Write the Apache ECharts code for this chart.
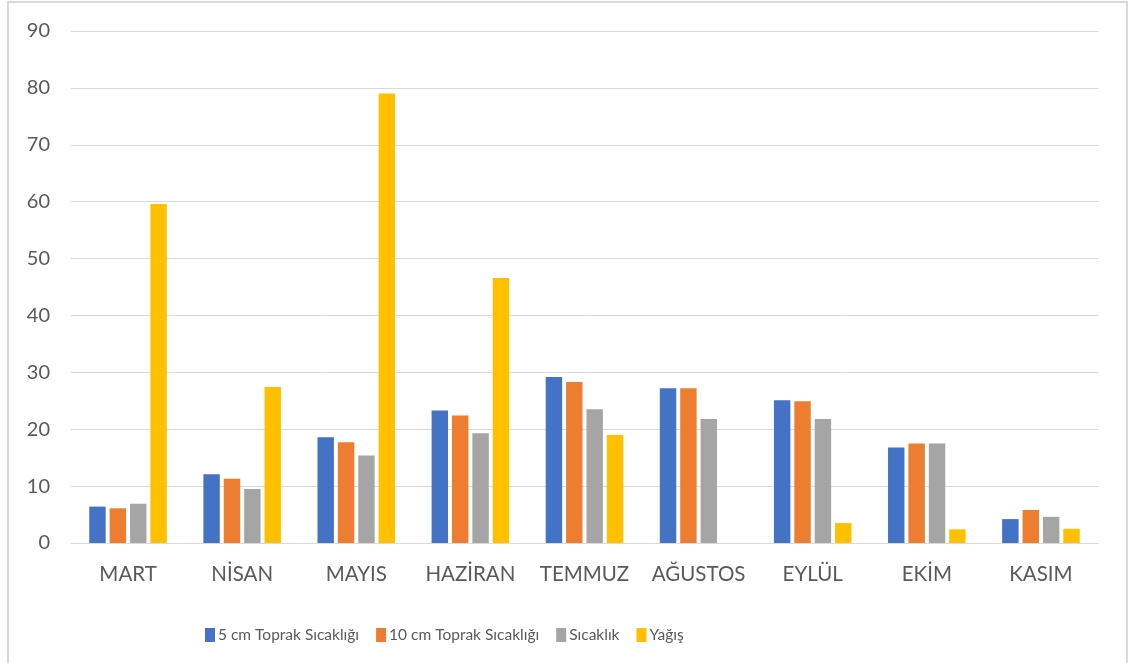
<!DOCTYPE html>
<html>
<head>
<meta charset="utf-8">
<script src="https://cdn.jsdelivr.net/npm/echarts@6/dist/echarts.min.js"></script>
<style>
  html, body { margin: 0; padding: 0; background: #fff; }
  #chart { width: 1133px; height: 663px; }
</style>
</head>
<body>
<div id="chart"></div>
<script>
// Months
const months = ['MART', 'NİSAN', 'MAYIS', 'HAZİRAN', 'TEMMUZ', 'AĞUSTOS', 'EYLÜL', 'EKİM', 'KASIM'];

// Series values per month
const soil5cm  = [6.4, 12.1, 18.6, 23.3, 29.2, 27.2, 25.1, 16.8, 4.2];
const soil10cm = [6.1, 11.3, 17.7, 22.4, 28.3, 27.2, 24.9, 17.5, 5.8];
const airTemp  = [6.9, 9.5, 15.4, 19.3, 23.5, 21.8, 21.8, 17.5, 4.6];
const rainfall = [59.6, 27.4, 79.0, 46.6, 19.0, 0, 3.5, 2.4, 2.5];

const seriesNames = ['5 cm Toprak Sıcaklığı', '10 cm Toprak Sıcaklığı', 'Sıcaklık', 'Yağış'];
const seriesColors = ['#4472C4', '#ED7D31', '#A5A5A5', '#FFC000'];
const seriesData = [soil5cm, soil10cm, airTemp, rainfall];

const FONT = 'Lato, "Open Sans", sans-serif';

const chart = echarts.init(document.getElementById('chart'), null, { renderer: 'canvas' });

chart.setOption({
  animation: false,
  backgroundColor: '#ffffff',
  graphic: [{
    type: 'rect',
    silent: true,
    shape: { x: 8, y: 2, width: 1119, height: 720 },
    style: { fill: 'none', stroke: '#d9d9d9', lineWidth: 2 }
  }],
  grid: { left: 71, right: 35, top: 31, bottom: 120, containLabel: false },
  legend: {
    left: 200,
    top: 622,
    itemWidth: 10,
    itemHeight: 14,
    itemGap: 17,
    icon: 'rect',
    textStyle: { fontFamily: FONT, fontSize: 15.5, color: '#595959', padding: [0, 0, 0, -2] },
    data: seriesNames
  },
  xAxis: {
    type: 'category',
    data: months,
    axisLine: { lineStyle: { color: '#d9d9d9', width: 1 } },
    axisTick: { show: false },
    axisLabel: { interval: 0, color: '#595959', fontFamily: FONT, fontSize: 20.5, margin: 21 }
  },
  yAxis: {
    type: 'value',
    min: 0,
    max: 90,
    interval: 10,
    axisLine: { show: false },
    axisTick: { show: false },
    splitLine: { lineStyle: { color: '#d9d9d9', width: 1 } },
    axisLabel: { color: '#595959', fontFamily: FONT, fontSize: 20, margin: 21 }
  },
  series: seriesNames.map((name, i) => ({
    name,
    type: 'bar',
    data: seriesData[i],
    itemStyle: { color: seriesColors[i] },
    barGap: '24%',
    barCategoryGap: '32%'
  }))
});
</script>
</body>
</html>
